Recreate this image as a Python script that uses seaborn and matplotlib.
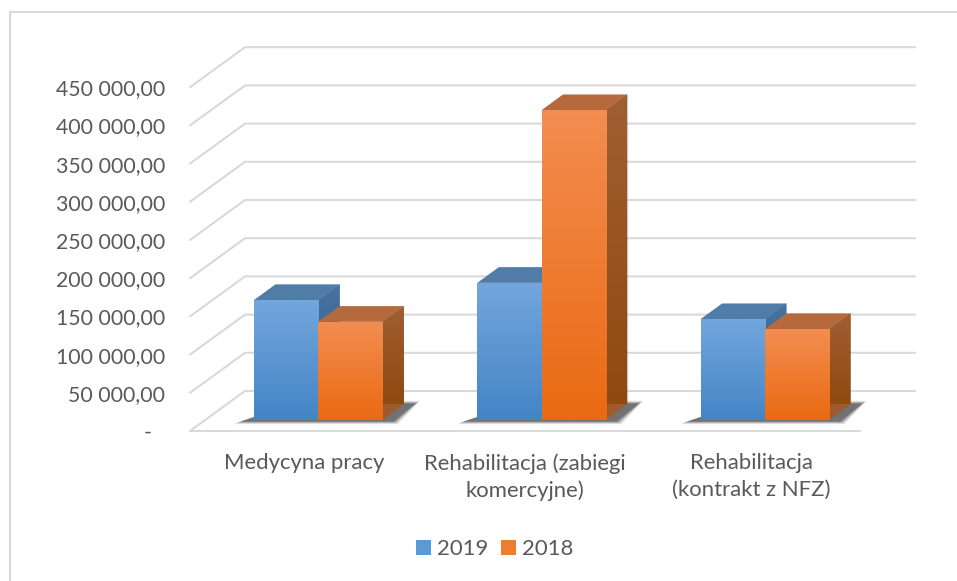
import numpy as np
import pandas as pd
import matplotlib
matplotlib.use("Agg")
import matplotlib.pyplot as plt
from matplotlib.lines import Line2D
from matplotlib.patches import Polygon
from matplotlib.transforms import Affine2D
import seaborn as sns

# dane
categories = ["Medycyna pracy", "Rehabilitacja (zabiegi\nkomercyjne)", "Rehabilitacja\n(kontrakt z NFZ)"]
values_2019 = [157000, 179500, 132000]
values_2018 = [128500, 405500, 119000]
ticks = [0, 50000, 100000, 150000, 200000, 250000, 300000, 350000, 400000, 450000]

W, H = 957, 581
TEXT = "#595959"
GRID = "#d9d9d9"
FONT = 15.3
FONT_X = 15.9

sns.set_theme(style="white")
plt.rcParams["font.family"] = ["Lato", "DejaVu Sans"]

df = pd.DataFrame({
    "kategoria": categories * 2,
    "rok": ["2019"] * 3 + ["2018"] * 3,
    "wartosc": values_2019 + values_2018,
})

fig = plt.figure(figsize=(W / 100, H / 100), dpi=100)
# os w plaszczyznie podstawy slupkow, reszta 3D jest przesunieta wzgledem niej
ax_l, ax_r, ax_base, ax_top = 206.5, 876.5, 420, 76.2
ax = fig.add_axes([ax_l / W, 1 - ax_base / H, (ax_r - ax_l) / W, (ax_base - ax_top) / H])

sns.barplot(data=df, x="kategoria", y="wartosc", hue="rok", hue_order=["2019", "2018"],
            palette=["#5b9bd5", "#ed7d31"], width=0.575, gap=0, saturation=1, linewidth=0, ax=ax)
ax.set_xlim(-0.5, 2.5)
ax.set_ylim(0, 450000)
ax.set_xlabel("")
ax.set_ylabel("")
sns.despine(ax=ax, left=True, bottom=True)
ax.patch.set_alpha(0)

PX_X = 3 / (ax_r - ax_l)
PX_Y = 450000 / (ax_base - ax_top)


def px(x, y, dx, dy):
    # przesuniecie w pikselach na wspolrzedne danych
    return x + dx * PX_X, y + dy * PX_Y


# siatka 3D
for t in ticks:
    fx, fy = px(-0.5, t, -16.5, -11)
    bx, by = px(-0.5, t, 38.5, 29)
    ex, _ = px(2.5, t, 38.5, 29)
    ax.plot([fx, bx, ex], [fy, by, by], color=GRID, lw=1.5, clip_on=False, zorder=1)
fx, fy = px(-0.5, 0, -16.5, -11)
ex, _ = px(2.5, 0, -16.5, -11)
ax.plot([fx, ex], [fy, fy], color=GRID, lw=1.5, clip_on=False, zorder=1)


def gradient(artist, x0, x1, y0, y1, top, bottom, z):
    rgb = np.array([matplotlib.colors.to_rgb(top), matplotlib.colors.to_rgb(bottom)])
    img = np.linspace(rgb[0], rgb[1], 64)[:, None, :]
    im = ax.imshow(img, extent=[x0, x1, y0, y1], origin="upper", aspect="auto",
                   interpolation="bilinear", zorder=z)
    im.set_clip_path(artist)


bars = sorted([p for p in ax.patches if p.get_height() > 0], key=lambda p: p.get_x())
legend_handles = ax.get_legend().legend_handles
ax.get_legend().remove()

# cien na podlodze, kilka warstw zeby byl rozmyty
for k in range(3):
    L = bars[2 * k].get_x()
    R = bars[2 * k + 1].get_x() + bars[2 * k + 1].get_width()
    for g, a in [(4, 0.06), (3, 0.1), (2, 0.14), (1, 0.18), (0, 0.22), (-1, 0.26)]:
        pts = [px(L, 0, -15 - g * 1.5, -2 - g * 0.6), px(R, 0, 12 + g, -2 - g * 0.6),
               px(R, 0, 34 + g, 17 + g * 0.6), px(R, 0, 20, 17 + g * 0.6), px(L, 0, 0, 3)]
        ax.add_patch(Polygon(pts, closed=True, fc="#2b2b2b", ec="none", alpha=a, clip_on=False, zorder=2))

DX, DY = 21.5, 15.7
for i, bar in enumerate(bars):
    is_2019 = i % 2 == 0
    x0, x1 = bar.get_x(), bar.get_x() + bar.get_width()
    h = bar.get_height()
    z = 3 + i * 0.1
    bx0, by = px(x0, h, DX, DY)
    bx1, _ = px(x1, h, DX, DY)
    _, by0 = px(x1, 0, DX, DY)

    top_face = Polygon([(x0, h), (x1, h), (bx1, by), (bx0, by)], closed=True, clip_on=False, ec="none",
                       fc="#507ca8" if is_2019 else "#b5693c", zorder=z)
    ax.add_patch(top_face)

    side = Polygon([(x1, 0), (bx1, by0), (bx1, by), (x1, h)], closed=True, clip_on=False, ec="none",
                   fc="#44709f" if is_2019 else "#9c5a2e", zorder=z)
    ax.add_patch(side)
    if is_2019:
        gradient(side, x1, bx1, by0, by, "#48739f", "#2f5c8c", z + 0.01)
    else:
        gradient(side, x1, bx1, by0, by, "#a05f33", "#8f4a10", z + 0.01)

    bar.set_zorder(z + 0.02)
    if is_2019:
        gradient(bar, x0, x1, 0, h, "#72a6dc", "#4485c6", z + 0.03)
    else:
        gradient(bar, x0, x1, 0, h, "#f38d50", "#ea6a13", z + 0.03)

ax.set_xlim(-0.5, 2.5)
ax.set_ylim(0, 450000)

# opisy osi
ax.set_yticks(ticks)
ax.set_yticklabels(["-" if t == 0 else f"{t:,.2f}".replace(",", " ").replace(".", ",") for t in ticks])
ax.tick_params(axis="y", length=0, pad=0, labelsize=FONT, labelcolor=TEXT)
ax.tick_params(axis="x", length=0, pad=24, labelsize=FONT_X, labelcolor=TEXT)
for t, lab in zip(ticks, ax.get_yticklabels()):
    shift = -54.5 if t == 0 else -41.5
    lab.set_transform(lab.get_transform() + Affine2D().translate(shift, -11))
for lab, shift in zip(ax.get_xticklabels(), [-13.5, -16.5, -13.5]):
    lab.set_linespacing(1.42)
    lab.set_transform(lab.get_transform() + Affine2D().translate(shift, 0))

# legenda
leg = ax.legend(legend_handles, ["2019", "2018"], ncol=2, frameon=False, loc="center",
                bbox_to_anchor=(494.5 / W, 1 - 549 / H), bbox_transform=fig.transFigure,
                fontsize=FONT_X, labelcolor=TEXT, handlelength=0.68, handleheight=0.68,
                handletextpad=0.25, columnspacing=0.6)

# ramka: tylko gora i lewa strona
fig.add_artist(Line2D([9.5 / W, 9.5 / W, 1], [0, 1 - 11.5 / H, 1 - 11.5 / H], color=GRID, lw=1.5))

fig.savefig("out.png", dpi=100)
